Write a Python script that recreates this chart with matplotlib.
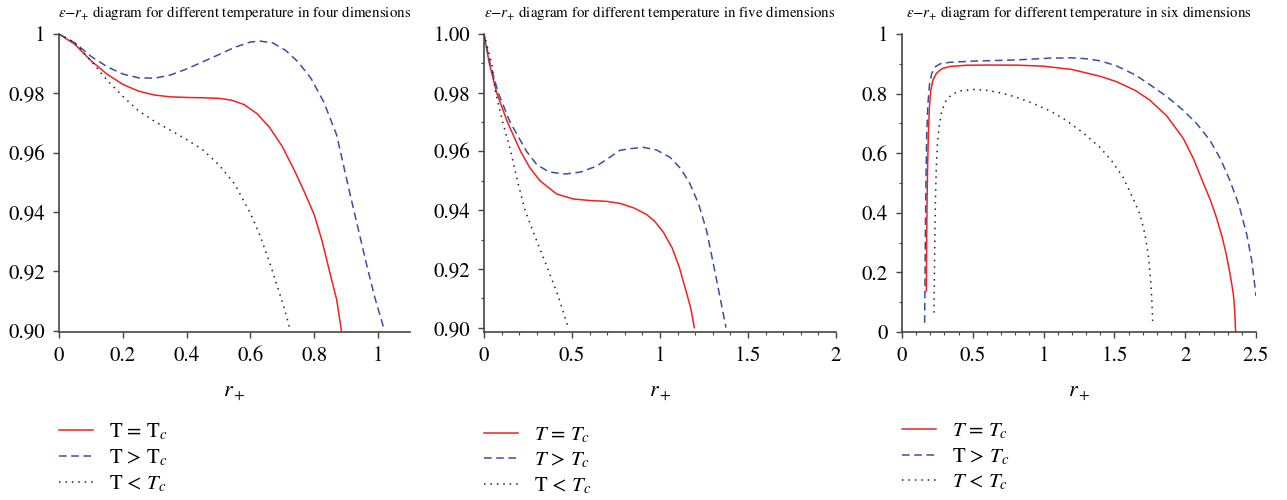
import matplotlib
matplotlib.use("Agg")
import matplotlib.pyplot as plt
from matplotlib.ticker import MultipleLocator, FixedLocator

plt.rcParams['font.family'] = ['STIXGeneral', 'DejaVu Serif']
plt.rcParams['mathtext.fontset'] = 'stix'

# --- four dimensions ---
r4_eq = [0, 0.05, 0.1, 0.15, 0.2, 0.25, 0.3, 0.35, 0.4, 0.45, 0.5, 0.54, 0.58, 0.62, 0.66, 0.7, 0.74, 0.77, 0.8, 0.825, 0.85, 0.87, 0.885]
e4_eq = [1, 0.9965, 0.991, 0.9865, 0.983, 0.9807, 0.9794, 0.9788, 0.9786, 0.9785, 0.9783, 0.9777, 0.9762, 0.9732, 0.9685, 0.962, 0.9535, 0.9465, 0.939, 0.930, 0.919, 0.9105, 0.90]
r4_gt = [0, 0.05, 0.1, 0.15, 0.2, 0.25, 0.3, 0.35, 0.4, 0.45, 0.5, 0.55, 0.6, 0.63, 0.67, 0.71, 0.75, 0.79, 0.83, 0.87, 0.91, 0.96, 0.99, 1.02]
e4_gt = [1, 0.997, 0.9925, 0.989, 0.9865, 0.9852, 0.9851, 0.9862, 0.9882, 0.9906, 0.993, 0.9955, 0.9973, 0.9976, 0.997, 0.9945, 0.9905, 0.985, 0.977, 0.966, 0.947, 0.924, 0.911, 0.90]
r4_lt = [0, 0.05, 0.1, 0.15, 0.2, 0.25, 0.3, 0.35, 0.4, 0.45, 0.5, 0.55, 0.6, 0.63, 0.66, 0.69, 0.71, 0.725]
e4_lt = [1, 0.997, 0.991, 0.9845, 0.979, 0.974, 0.9705, 0.9675, 0.9644, 0.961, 0.956, 0.9495, 0.9395, 0.932, 0.923, 0.913, 0.906, 0.90]

# --- five dimensions ---
r5_eq = [0, 0.03, 0.072, 0.133, 0.208, 0.26, 0.318, 0.413, 0.508, 0.6, 0.697, 0.773, 0.85, 0.924, 0.97, 1.019, 1.07, 1.11, 1.15, 1.175, 1.195]
e5_eq = [1, 0.99, 0.98, 0.97, 0.96, 0.9545, 0.95, 0.9455, 0.9438, 0.9433, 0.943, 0.9423, 0.9408, 0.9385, 0.9362, 0.9325, 0.927, 0.9205, 0.912, 0.9065, 0.90]
r5_gt = [0, 0.034, 0.081, 0.148, 0.242, 0.3, 0.37, 0.46, 0.55, 0.64, 0.773, 0.84, 0.905, 0.98, 1.057, 1.12, 1.17, 1.22, 1.265, 1.32, 1.375]
e5_gt = [1, 0.99, 0.98, 0.97, 0.96, 0.9555, 0.953, 0.9523, 0.953, 0.955, 0.9604, 0.961, 0.9614, 0.9605, 0.958, 0.954, 0.949, 0.942, 0.933, 0.9167, 0.90]
r5_lt = [0, 0.0436, 0.066, 0.106, 0.152, 0.19, 0.233, 0.29, 0.356, 0.42, 0.479]
e5_lt = [1, 0.99, 0.98, 0.97, 0.96, 0.95, 0.94, 0.931, 0.921, 0.911, 0.90]

# --- six dimensions ---
r6_eq = [0.172, 0.174, 0.177, 0.181, 0.186, 0.193, 0.203, 0.218, 0.243, 0.28, 0.337, 0.45, 0.6, 0.808, 1.0, 1.2, 1.4, 1.515, 1.65, 1.75, 1.87, 1.986, 2.06, 2.13, 2.18, 2.22, 2.26, 2.29, 2.315, 2.34, 2.35, 2.356]
e6_eq = [0.138, 0.30, 0.441, 0.56, 0.66, 0.75, 0.81, 0.845, 0.868, 0.883, 0.891, 0.895, 0.8958, 0.8955, 0.892, 0.881, 0.858, 0.840, 0.810, 0.778, 0.725, 0.65, 0.58, 0.497, 0.44, 0.385, 0.32, 0.261, 0.20, 0.127, 0.07, 0.0]
r6_gt = [0.16, 0.162, 0.165, 0.169, 0.174, 0.182, 0.194, 0.21, 0.235, 0.27, 0.337, 0.5, 0.808, 1.044, 1.2, 1.3, 1.4, 1.515, 1.65, 1.75, 1.87, 1.986, 2.08, 2.175, 2.25, 2.316, 2.38, 2.434, 2.47, 2.5]
e6_gt = [0.031, 0.15, 0.329, 0.5, 0.65, 0.76, 0.83, 0.868, 0.89, 0.90, 0.905, 0.909, 0.913, 0.919, 0.920, 0.917, 0.910, 0.893, 0.862, 0.83, 0.79, 0.744, 0.70, 0.643, 0.58, 0.508, 0.425, 0.329, 0.24, 0.121]
r6_lt = [0.226, 0.229, 0.232, 0.236, 0.242, 0.25, 0.262, 0.28, 0.31, 0.35, 0.41, 0.5, 0.6, 0.7, 0.8, 0.926, 1.05, 1.16, 1.28, 1.397, 1.48, 1.56, 1.62, 1.68, 1.715, 1.739, 1.755, 1.765, 1.77]
e6_lt = [0.065, 0.2, 0.32, 0.44, 0.55, 0.63, 0.69, 0.74, 0.775, 0.797, 0.809, 0.814, 0.811, 0.802, 0.789, 0.767, 0.741, 0.71, 0.668, 0.62, 0.575, 0.52, 0.46, 0.396, 0.33, 0.26, 0.18, 0.1, 0.037]

titles = ["four", "five", "six"]
labels = [
    [r"T = T$_{\mathit{c}}$", r"T > T$_{\mathit{c}}$", r"T < $T_c$"],
    [r"$T$ = $T_c$", r"$T$ > $T_c$", r"T < $T_c$"],
    [r"$T$ = $T_c$", r"T > $T_c$", r"$T$ < $T_c$"],
]
data = [
    (r4_eq, e4_eq, r4_gt, e4_gt, r4_lt, e4_lt),
    (r5_eq, e5_eq, r5_gt, e5_gt, r5_lt, e5_lt),
    (r6_eq, e6_eq, r6_gt, e6_gt, r6_lt, e6_lt),
]

fig = plt.figure(figsize=(12.87, 5.0), dpi=100)
lefts = [59, 484, 902]
widths = [351, 352, 354]
legend_y = [-0.3, -0.315, -0.3]
spine_col = "#444444"

for i in range(3):
    ax = fig.add_axes([lefts[i] / 1287, 1 - 332 / 500, widths[i] / 1287, 298 / 500])
    req, eeq, rgt, egt, rlt, elt = data[i]
    l1, = ax.plot(req, eeq, color="#ee2222", lw=1.1, label=labels[i][0])
    l2, = ax.plot(rgt, egt, color="#3a4fa0", lw=1.1, ls=(0, (5, 3)), label=labels[i][1])
    l3, = ax.plot(rlt, elt, color="#222222", lw=1.1, ls=(0, (1, 3.2)), label=labels[i][2])

    for s in ["top", "right"]:
        ax.spines[s].set_visible(False)
    for s in ["left", "bottom"]:
        ax.spines[s].set_color(spine_col)
        ax.spines[s].set_linewidth(1.2)
    ax.tick_params(which="major", direction="out", length=4, width=1, color=spine_col,
                   labelsize=15, pad=6)
    ax.tick_params(which="minor", direction="out", length=2.5, width=0.8, color=spine_col)

    if i == 0:
        ax.set_xlim(0, 1.1)
        ax.set_ylim(0.8995, 1.0)
        ax.xaxis.set_major_locator(FixedLocator([0, 0.2, 0.4, 0.6, 0.8, 1.0]))
        ax.set_xticklabels(["0", "0.2", "0.4", "0.6", "0.8", "1"])
        ax.yaxis.set_major_locator(FixedLocator([0.90, 0.92, 0.94, 0.96, 0.98, 1.0]))
        ax.set_yticklabels(["0.90", "0.92", "0.94", "0.96", "0.98", "1"])
    elif i == 1:
        ax.set_xlim(0, 2)
        ax.set_ylim(0.8985, 1.0)
        ax.xaxis.set_major_locator(FixedLocator([0, 0.5, 1, 1.5, 2]))
        ax.set_xticklabels(["0", "0.5", "1", "1.5", "2"])
        ax.xaxis.set_minor_locator(MultipleLocator(0.1))
        ax.yaxis.set_major_locator(FixedLocator([0.90, 0.92, 0.94, 0.96, 0.98, 1.0]))
        ax.set_yticklabels(["0.90", "0.92", "0.94", "0.96", "0.98", "1.00"])
        ax.yaxis.set_minor_locator(MultipleLocator(0.01))
    else:
        ax.set_xlim(0, 2.5)
        ax.set_ylim(0, 1.0)
        ax.xaxis.set_major_locator(FixedLocator([0, 0.5, 1, 1.5, 2, 2.5]))
        ax.set_xticklabels(["0", "0.5", "1", "1.5", "2", "2.5"])
        ax.xaxis.set_minor_locator(MultipleLocator(0.1))
        ax.yaxis.set_major_locator(FixedLocator([0, 0.2, 0.4, 0.6, 0.8, 1.0]))
        ax.set_yticklabels(["0", "0.2", "0.4", "0.6", "0.8", "1"])
        ax.yaxis.set_minor_locator(MultipleLocator(0.1))

    ax.set_title(r"$\epsilon$$-$$r_{+}$ diagram for different temperature in %s dimensions" % titles[i],
                 fontsize=10.8, pad=12)
    ax.set_xlabel(r"$r_+$", fontsize=16, labelpad=13)
    ax.legend(handles=[l1, l2, l3], loc="upper left", bbox_to_anchor=(0.0, legend_y[i]),
              frameon=False, fontsize=15, handlelength=1.65, handletextpad=0.75,
              labelspacing=0.25, borderaxespad=0, borderpad=0)

fig.savefig("out.png", dpi=100)
